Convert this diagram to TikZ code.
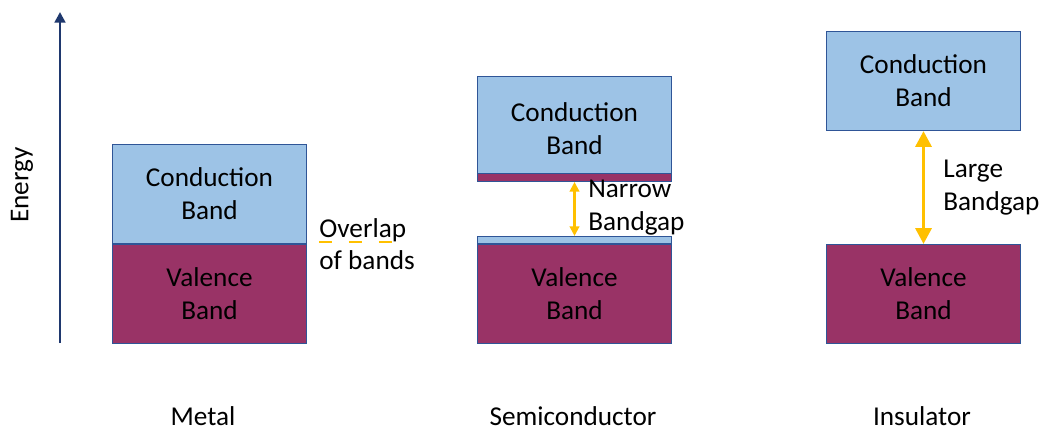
\documentclass[tikz,border=0pt]{standalone}
\usepackage{fontspec}
\setmainfont{Carlito}
\usepackage{tikz}
\usetikzlibrary{arrows.meta,positioning}
\definecolor{condblue}{RGB}{157,195,230}
\definecolor{valred}{RGB}{153,51,102}
\definecolor{bandline}{RGB}{47,85,151}
\definecolor{gapclr}{RGB}{255,192,0}
\definecolor{axisclr}{RGB}{31,56,110}

\begin{document}
\begin{tikzpicture}[x=0.02cm,y=-0.02cm,
   font=\fontsize{15.5pt}{18.7pt}\selectfont,
   band/.style={draw=bandline,line width=0.6pt,minimum width=3.88cm,minimum height=1.98cm,
     inner sep=0pt,align=center},
   cband/.style={band,fill=condblue},
   vband/.style={band,fill=valred},
   strip/.style={draw=bandline,line width=0.6pt,minimum width=3.88cm,inner sep=0pt},
   gaparrow/.style={gapclr,line width=#1,{Triangle[width=#1*4.5,length=#1*4.5]}-{Triangle[width=#1*4.5,length=#1*4.5]}},
   gaparrow/.default=1.2pt,
   lbl/.style={inner sep=0pt,align=left},
   node distance=0pt]

 \useasboundingbox (0,0) rectangle (1041,429);

 % energy axis
 \coordinate (e0) at (60,343);
 \coordinate (e1) at (60,12);
 \draw[axisclr,line width=1.5pt,-{Triangle[width=6pt,length=6pt]}] (e0) -- (e1);
 \node[rotate=90] (energy) at (22,185) {Energy};

 % metal
 \node[vband,anchor=north west] (mval) at (112,244) {Valence\\Band};
 \node[cband,above=of mval] (mcon) {Conduction\\Band};
 \node[lbl,anchor=base west] (ovl) at (319,237) {Overlap};
 \node[lbl,anchor=base west] (ofb) at (319,269) {of bands};
 \draw[gapclr,line width=1pt,dash pattern=on 0.26cm off 0.34cm] (ovl.south west) -- (ovl.south east);
 \node[lbl,anchor=base] (metal) at (203,425) {Metal};

 % semiconductor
 \node[vband,anchor=north west] (sval) at (477,244) {Valence\\Band};
 \node[strip,fill=condblue,minimum height=0.14cm,above=of sval] (svtop) {};
 \node[cband,anchor=north west,minimum height=2.1cm] (scon) at (477,76) {Conduction\\Band};
 \node[strip,fill=valred,minimum height=0.16cm,anchor=south] (scbot) at (scon.south) {};
 \draw[gaparrow] (scbot.south) -- (svtop.north);
 \node[lbl,anchor=west] (narrow) at (588,208) {Narrow\\Bandgap};
 \node[lbl,anchor=base] (semi) at (573,425) {Semiconductor};

 % insulator
 \node[vband,anchor=north west] (ival) at (826,244) {Valence\\Band};
 \node[cband,anchor=north west] (icon) at (826,31) {Conduction\\Band};
 \draw[gaparrow=2pt] (icon.south) -- (ival.north);
 \node[lbl,anchor=west] (large) at (943,188) {Large\\Bandgap};
 \node[lbl,anchor=base] (insul) at (922,425) {Insulator};

\end{tikzpicture}
\end{document}
